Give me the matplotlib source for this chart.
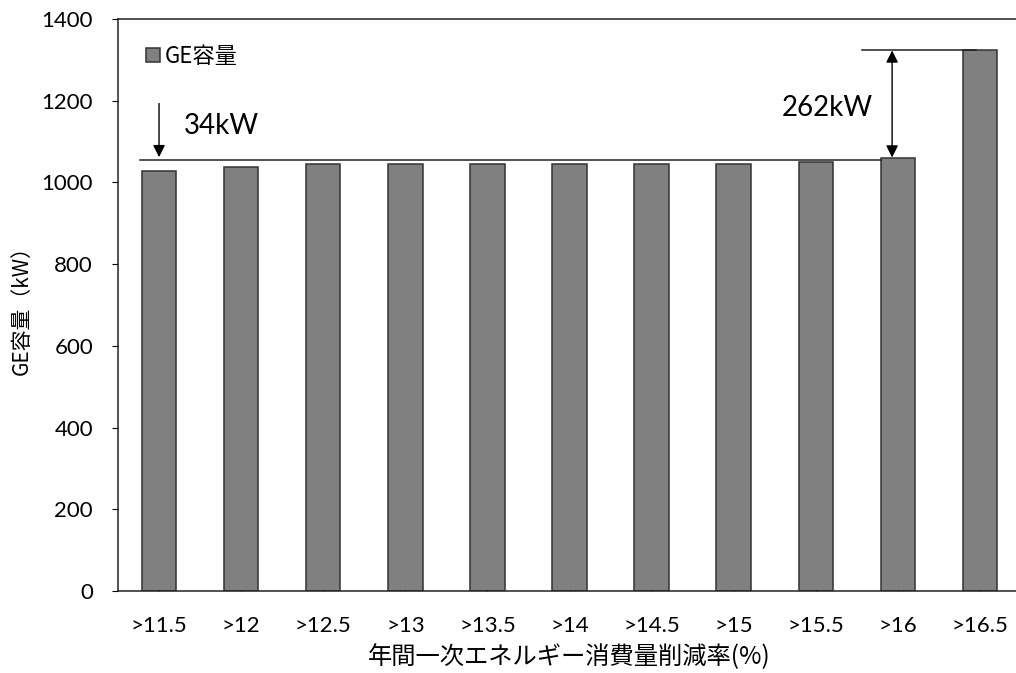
import matplotlib
matplotlib.use("Agg")
import matplotlib.pyplot as plt

plt.rcParams['font.family'] = ['Lato', 'Noto Sans CJK JP', 'DejaVu Sans']

# 削減率ごとのGE容量
categories = ['>11.5', '>12', '>12.5', '>13', '>13.5', '>14', '>14.5', '>15', '>15.5', '>16', '>16.5']
ge_capacity = [1027, 1037, 1044, 1044, 1044, 1044, 1044, 1046, 1049, 1061, 1323]

fig = plt.figure(figsize=(10.16, 6.73), dpi=100)
ax = fig.add_axes([118 / 1016, 1 - 591 / 673, 903 / 1016, 572 / 673])

x = list(range(len(categories)))
ax.bar(x, ge_capacity, width=0.42, color='#808080', edgecolor='#333333', linewidth=1.1,
       label='GE容量', zorder=2)

ax.set_xlim(-0.5, len(categories) - 0.5)
ax.set_ylim(0, 1400)
ax.set_yticks(range(0, 1401, 200))
ax.set_xticks(x)
ax.set_xticklabels(categories)
ax.tick_params(axis='y', direction='out', length=4, labelsize=16, pad=14)
ax.tick_params(axis='x', direction='in', length=4, labelsize=16, pad=18)
for s in ax.spines.values():
    s.set_linewidth(1.1)
    s.set_color('#222222')

ax.set_xlabel('年間一次エネルギー消費量削減率(%)', fontsize=17.5, labelpad=6,
              family=['Noto Sans CJK JP'])
ax.set_ylabel('GE容量（kW）', fontsize=15, labelpad=6, family=['Noto Sans CJK JP'])

# 基準線と差分の矢印
base = ge_capacity[0] + 28
ax.plot([-0.23, 8.8], [base, base], color='#222222', lw=1.1, zorder=3)
ax.annotate('', xy=(0, base), xytext=(0, 1200),
            arrowprops=dict(arrowstyle='-|>', color='black', lw=1, mutation_scale=18))
ax.text(0.3, 1139, f'{ge_capacity[-2] - ge_capacity[0]}kW', fontsize=20,
        va='center', ha='left')

top = ge_capacity[-1]
ax.plot([8.56, 9.95], [top, top], color='#222222', lw=1.1, zorder=3)
ax.annotate('', xy=(8.93, ge_capacity[-2]), xytext=(8.93, top),
            arrowprops=dict(arrowstyle='<|-|>', color='black', lw=1, mutation_scale=18,
                            shrinkA=0, shrinkB=0))
ax.text(8.7, 1183, f'{top - ge_capacity[-2]}kW', fontsize=20, va='center', ha='right')

leg = ax.legend(loc='upper left', bbox_to_anchor=(0.031, 0.955), frameon=False,
                handlelength=0.65, handleheight=0.65, handletextpad=0.2,
                borderaxespad=0, borderpad=0, prop={'family': ['Noto Sans CJK JP'], 'size': 16})

fig.savefig('out.png', dpi=100)
